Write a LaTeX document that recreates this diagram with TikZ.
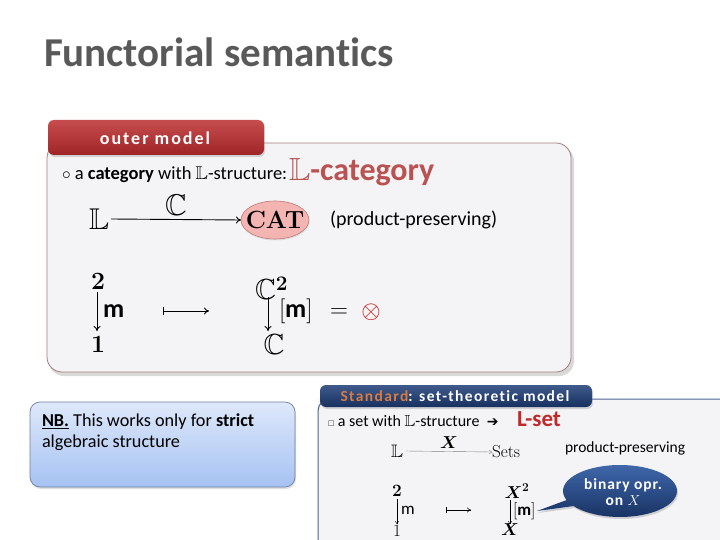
\documentclass[tikz,border=0pt]{standalone}
\usepackage{amsmath,amssymb}
\usepackage[no-math]{fontspec}
\setmainfont{Carlito}[Ligatures=NoCommon]
\newfontfamily\dejavu{DejaVu Sans}
\usetikzlibrary{shapes.geometric,shapes.callouts,shadows,arrows.meta}
\definecolor{titlegray}{HTML}{595959}
\definecolor{boxfill}{HTML}{F4F4F6}
\definecolor{boxborder}{HTML}{A87C7C}
\definecolor{tabred}{HTML}{C0393B}
\definecolor{tabreddark}{HTML}{9E2426}
\definecolor{lcat}{HTML}{B95250}
\definecolor{catfill}{HTML}{F4B4B2}
\definecolor{catborder}{HTML}{C07A78}
\definecolor{nbtop}{HTML}{DEE8FA}
\definecolor{nbbot}{HTML}{A6C2F2}
\definecolor{nbborder}{HTML}{6F7F9F}
\definecolor{navy}{HTML}{1F3D78}
\definecolor{navydark}{HTML}{16305F}
\definecolor{stdorange}{HTML}{D97A40}
\definecolor{lset}{HTML}{C0282A}
\definecolor{callblue}{HTML}{1E4C9C}
\begin{document}
\begin{tikzpicture}[x=1pt,y=-1pt,
  every node/.style={inner sep=0pt,outer sep=0pt},
  txt/.style={anchor=base west,font=\fontsize{18.5}{22}\selectfont},
  mth/.style={font=\fontsize{30}{34}\selectfont},
  mthb/.style={font=\fontsize{29}{33}\selectfont},
  smth/.style={font=\fontsize{18}{21}\selectfont},
  tabbox/.style={rounded corners=6pt},
  panel/.style={rounded corners=15pt,fill=boxfill,draw=boxborder,line width=0.8pt},
  map/.style={-{To[length=5pt,width=7pt]},line width=0.9pt},
  smap/.style={-{To[length=3pt,width=4pt]},line width=0.4pt}
]
\useasboundingbox (0,0) rectangle (720,540);
\fill[white] (0,0) rectangle (720,540);

% title
\node[anchor=base west,text=titlegray,font=\fontsize{41}{45}\selectfont\bfseries] (title) at (44,67) {Functorial semantics};

% outer model panel
\draw[white,line width=4pt,rounded corners=17pt] (45,141) rectangle (573,374);
\fill[black!15,rounded corners=15pt] (49,146) rectangle (574,376);
\draw[panel] (47,143) rectangle (571,372);
\shade[tabbox,top color=tabred!90!white,bottom color=tabreddark,drop shadow={opacity=0.3,shadow xshift=1pt,shadow yshift=-2pt}] (48,120) rectangle (264,155);
\node[text=white,font=\fontsize{18}{20}\selectfont\bfseries\addfontfeatures{LetterSpace=11}] (outertab) at (155,138) {outer model};

\node[txt] (line1) at (62,180) {$\circ$ a \textbf{category} with $\mathbb{L}$-structure:};
\node[anchor=base west,text=lcat,font=\fontsize{32}{36}\selectfont\bfseries] (lcat) at (289,181) {$\mathbb{L}$-category};

\node[mth] (L) at (99,219) {$\mathbb{L}$};
\node[ellipse,fill=catfill,draw=catborder,line width=0.6pt,minimum width=68pt,minimum height=38pt,inner sep=0pt,drop shadow={opacity=0.2,shadow xshift=0.5pt,shadow yshift=-1.5pt}] (CATe) at (275,220) {};
\node[font=\fontsize{28}{32}\selectfont] (CAT) at (275,220) {$\mathbf{CAT}$};
\draw[map] (L.east) ++(2pt,0) coordinate (Ls) -- (CATe.west) node[midway,above=4pt,mth] (Clab) {$\mathbb{C}$};
\node[anchor=west,font=\fontsize{20}{24}\selectfont] (pp) at (330,220) {(product-preserving)};

\node[mthb] (two) at (98,281) {$\mathbf{2}$};
\node[mthb] (one) at (98,344) {$\mathbf{1}$};
\draw[map] (97,292) coordinate (a1) -- (97,331) coordinate (a2);
\node[anchor=west,font=\fontsize{26}{30}\selectfont\bfseries] (mlab) at (103,311) {m};
\draw[line width=0.9pt,{Bar[width=8pt]}-{To[length=5pt,width=7pt]}] (163,311) coordinate (ms1) -- (209,311) coordinate (ms2);
\node[mthb,anchor=west] (C2) at (255,288) {$\mathbb{C}^{\mathbf{2}}$};
\node[mthb] (C1) at (274,345) {$\mathbb{C}$};
\draw[map] (268,297) coordinate (b1) -- (268,331) coordinate (b2);
\node[mthb,anchor=west] (mbr) at (279,311) {$[$\fontsize{26}{30}\selectfont\textbf{m}$]$};
\node[mthb] (eq) at (339,313) {$=$};
\node[mthb,text=red!80!black] (otimes) at (371,312) {$\otimes$};

% NB box
\shade[rounded corners=10pt,top color=nbtop,bottom color=nbbot,drop shadow={opacity=0.25,shadow xshift=1pt,shadow yshift=-2pt}] (30,402) rectangle (295,487);
\draw[rounded corners=10pt,draw=nbborder,line width=0.7pt] (30,402) rectangle (295,487);
\node[anchor=base west,font=\fontsize{18.2}{21}\selectfont,align=left] (nb1) at (42,426) {\textbf{\underline{NB.}} This works only for \textbf{strict}};
\node[anchor=base west,font=\fontsize{18.2}{21}\selectfont] (nb2) at (42,447) {algebraic structure};

% Standard panel
\fill[boxfill] (318,399) rectangle (722,542);
\draw[navy!80,line width=1pt] (722,399) -- (330,399) arc[start angle=90,end angle=180,radius=12pt] -- (318,542);
\shade[tabbox,top color=navy!85!white,bottom color=navydark,drop shadow={opacity=0.3,shadow xshift=1pt,shadow yshift=-2pt}] (320,385) rectangle (592,407);
\node[font=\fontsize{15.5}{17}\selectfont\bfseries\addfontfeatures{LetterSpace=9}] (stdtab) at (455,396) {\textcolor{stdorange}{Standard}\textcolor{white}{: set-theoretic model}};

\node[anchor=base west,font=\fontsize{16}{19}\selectfont] (sline) at (328,426) {$\scriptscriptstyle\square$ a set with $\mathbb{L}$-structure\ \ {\dejavu\fontsize{14}{16}\selectfont ➔}};
\node[anchor=base west,text=lset,font=\fontsize{23}{26}\selectfont\bfseries] (lsetn) at (517,426) {L-set};

\node[smth] (sL) at (397,451) {$\mathbb{L}$};
\node[smth,anchor=west] (sets) at (492,452) {$\mathrm{Sets}$};
\draw[smap,gray] (sL.east) ++(3pt,0) -- (sets.west) node[midway,above=3pt,smth,text=black] (Xlab) {$\boldsymbol{X}$};
\node[anchor=west,font=\fontsize{15.5}{18}\selectfont] (spp) at (565,448) {product-preserving};

\node[smth] (stwo) at (397,491) {$\mathbf{2}$};
\node[smth] (sone) at (397,531) {$1$};
\draw[smap] (397,499) coordinate (c1) -- (397,524) coordinate (c2);
\node[anchor=west,font=\fontsize{17}{19}\selectfont] (sm) at (401,510) {m};
\draw[line width=0.5pt,{Bar[width=6pt]}-{To[length=4pt,width=5pt]}] (446,510) coordinate (sms1) -- (471,510) coordinate (sms2);
\node[smth] (X2) at (517,491) {$\boldsymbol{X}^{\mathbf{2}}$};
\node[smth] (X1) at (510,530) {$\boldsymbol{X}$};
\draw[smap] (510,500) coordinate (d1) -- (510,524) coordinate (d2);
\node[smth,anchor=west] (smbr) at (513,511) {$[$\fontsize{17}{19}\selectfont\textbf{m}$]$};
\coordinate (ptr) at (537,511);
\node[ellipse callout,callout absolute pointer={(ptr)},top color=callblue!85!white,bottom color=navydark,minimum width=114pt,minimum height=52pt,drop shadow={opacity=0.3,shadow xshift=1pt,shadow yshift=-2pt}] (callout) at (620,491) {};
\node[text=white,font=\fontsize{15.5}{18}\selectfont\bfseries\addfontfeatures{LetterSpace=6},align=center] (calltext) at (623,492) {binary opr.\\[-2pt] on $X$};
\end{tikzpicture}
\end{document}
